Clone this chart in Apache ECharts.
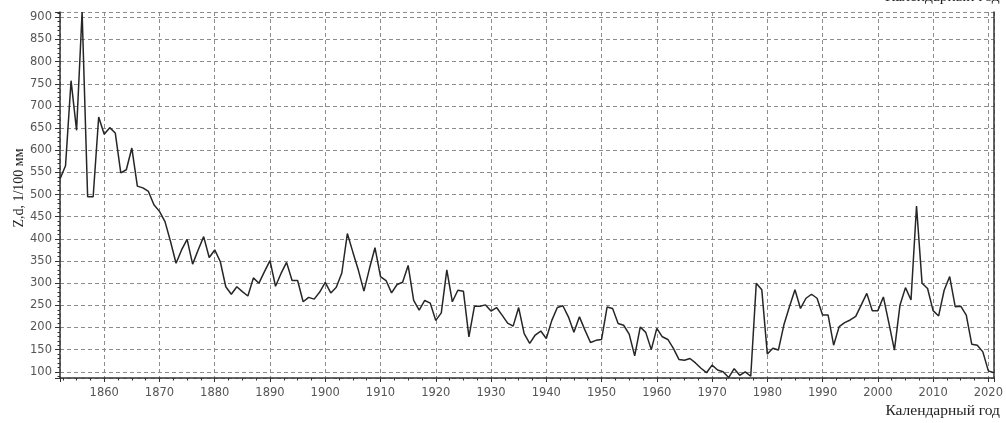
<!DOCTYPE html>
<html>
<head>
<meta charset="utf-8">
<script src="https://cdn.jsdelivr.net/npm/echarts@6/dist/echarts.min.js"></script>
<style>html,body{margin:0;padding:0;background:#fff;}#c{width:1006px;height:423px;}</style>
</head>
<body>
<div id="c"></div>
<script>
const startYear = 1852;
const values = [
 535,565,757,645,912,495,495,675,
 636,651,639,549,556,605,519,515,507,477,
 462,439,394,345,375,399,343,375,405,358,
 375,349,292,275,292,281,271,312,300,326,
 351,293,322,347,306,306,258,268,264,280,
 302,278,291,323,412,370,329,282,333,380,
 315,306,278,297,302,340,261,239,261,255,
 216,233,330,258,284,282,179,248,248,251,
 237,245,228,210,203,245,186,164,183,192,
 175,216,245,249,224,189,224,194,166,171,
 173,246,243,209,205,185,136,201,189,150,
 198,179,173,153,128,126,130,120,108,98,
 115,104,100,87,107,92,100,90,300,285,
 140,153,149,206,247,285,243,266,275,266,
 228,228,160,202,211,217,225,251,277,238,
 238,269,210,149,250,290,262,474,300,288,
 238,226,284,315,247,248,228,162,160,145,
 102,98
];
const years = values.map((v, i) => startYear + i);
const xName = 'Календарный год';
const yName = 'Z,d, 1/100 мм';

const labelStyle = { color: '#555', fontFamily: 'DejaVu Sans', fontSize: 11.5 };
const gridLine = { show: true, lineStyle: { color: '#8c8c8c', type: [4, 3], width: 1 } };

const chart = echarts.init(document.getElementById('c'));
chart.setOption({
  animation: false,
  backgroundColor: '#fff',
  grid: { left: 60, right: 9, top: 12, bottom: 45, containLabel: false },
  xAxis: {
    type: 'value', min: 1852, max: 2021, splitNumber: 17,
    axisLine: { show: true, lineStyle: { color: '#333', width: 1.5 } },
    axisTick: { show: true, length: 4, lineStyle: { color: '#333' } },
    minorTick: { show: true, splitNumber: 4, length: 2.5, lineStyle: { color: '#333' } },
    axisLabel: Object.assign({ margin: 9, showMinLabel: false, showMaxLabel: false, formatter: v => String(v) }, labelStyle),
    splitLine: gridLine
  },
  yAxis: [{
    type: 'value', min: 86, max: 912, splitNumber: 16,
    axisLine: { show: true, lineStyle: { color: '#333', width: 1.5 } },
    axisTick: { show: true, length: 5, lineStyle: { color: '#333' } },
    minorTick: { show: true, splitNumber: 5, length: 2.5, lineStyle: { color: '#333' } },
    axisLabel: Object.assign({ margin: 8, showMinLabel: false, showMaxLabel: false, formatter: v => String(v) }, labelStyle),
    splitLine: gridLine
  }, {
    type: 'value', min: 86, max: 912, position: 'right',
    axisLine: { show: true, lineStyle: { color: '#333', width: 1.5 } },
    axisTick: { show: false }, axisLabel: { show: false }, splitLine: { show: false }
  }],
  graphic: [
    { type: 'text', right: 6, top: 403, style: { text: xName, fontFamily: 'Liberation Serif', fontSize: 15.5, fill: '#222' } },
    { type: 'text', left: 885, top: -11.5, style: { text: xName, fontFamily: 'Liberation Serif', fontSize: 15.5, fill: '#222' } },
    { type: 'text', x: 12, y: 188, rotation: Math.PI / 2,
      style: { text: yName, fontFamily: 'Liberation Serif', fontSize: 14, fill: '#222', align: 'center', verticalAlign: 'top' } }
  ],
  series: [{
    type: 'line', yAxisIndex: 0,
    data: years.map((y, i) => [y, values[i]]),
    showSymbol: false, symbol: 'none',
    lineStyle: { color: '#262626', width: 1.5 },
    clip: true
  }]
});
</script>
</body>
</html>
